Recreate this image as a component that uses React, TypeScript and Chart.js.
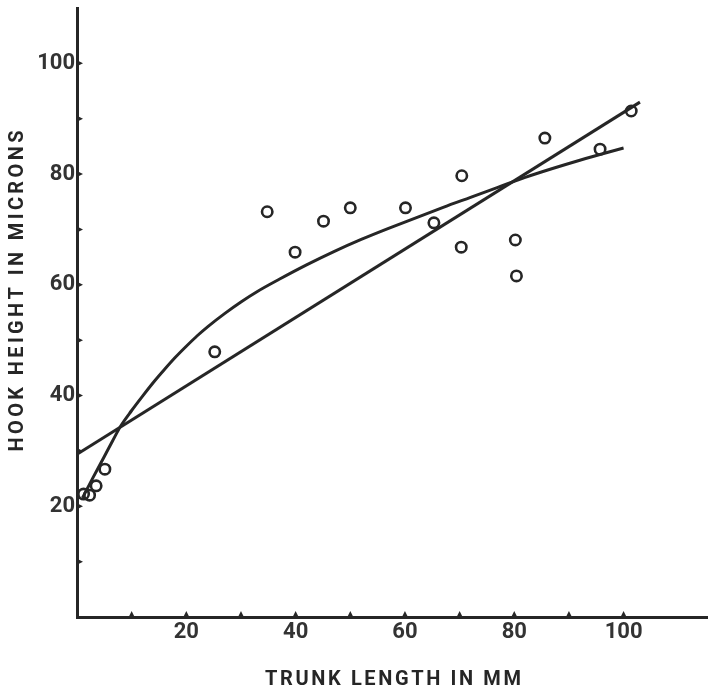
import React, { useEffect, useRef } from "react";
import { Chart, registerables } from "chart.js";

Chart.register(...registerables);

// Observed specimens (trunk length mm, hook height microns)
const pointX = [1.2, 2.3, 3.5, 5.1, 25.2, 34.8, 39.9, 45.1, 50, 60.1, 65.3, 70.4, 70.3, 80.2, 80.4, 85.6, 95.7, 101.4];
const pointY = [22.2, 22.0, 23.7, 26.7, 47.9, 73.2, 65.9, 71.5, 73.9, 73.9, 71.2, 79.7, 66.8, 68.1, 61.6, 86.5, 84.5, 91.4];

// Freehand fitted curve
const curveX = [1, 3, 5, 6.5, 8, 10, 12, 14, 16, 18, 20, 22, 24, 27, 30, 33, 37, 42, 47, 52, 57, 62, 67, 72, 77, 82, 87, 92, 97, 100];
const curveY = [21.5, 25.3, 29.0, 31.8, 34.5, 37.3, 39.9, 42.4, 44.7, 46.9, 48.9, 50.8, 52.5, 54.8, 56.9, 58.8, 61.0, 63.6, 66.0, 68.2, 70.2, 72.1, 74.0, 75.8, 77.6, 79.4, 81.0, 82.5, 83.9, 84.7];

// Straight regression line
const lineX = [0, 103];
const lineY = [29.4, 93];

const xTickLabels = [20, 40, 60, 80, 100];
const yTickLabels = [20, 40, 60, 80, 100];
const xMinorTicks = [10, 20, 30, 40, 50, 60, 70, 80, 90, 100];
const yMinorTicks = [10, 20, 30, 40, 50, 60, 70, 80, 90, 100];

const xTitle = "TRUNK LENGTH IN MM";
const yTitle = "HOOK HEIGHT IN MICRONS";

const INK = "#262626";
const FONT_FAMILY = "Roboto, 'DejaVu Sans', sans-serif";

function drawSpaced(ctx: CanvasRenderingContext2D, text: string, cx: number, cy: number, target: number) {
  const chars = text.split("");
  const widths = chars.map((c) => ctx.measureText(c).width);
  const natural = widths.reduce((a, b) => a + b, 0);
  const gap = chars.length > 1 ? (target - natural) / (chars.length - 1) : 0;
  let x = cx - target / 2;
  ctx.textAlign = "left";
  ctx.textBaseline = "middle";
  chars.forEach((c, i) => {
    ctx.fillText(c, x, cy);
    x += widths[i] + gap;
  });
}

const decorPlugin = {
  id: "decor",
  afterDraw(chart: any) {
    const { ctx, chartArea } = chart;
    const xs = chart.scales.x;
    const ys = chart.scales.y;
    ctx.save();
    ctx.fillStyle = INK;
    // small triangular tick marks on the inside of the axes
    xMinorTicks.forEach((v) => {
      const px = xs.getPixelForValue(v);
      const py = chartArea.bottom - 1;
      ctx.beginPath();
      ctx.moveTo(px - 2.5, py);
      ctx.lineTo(px, py - 5);
      ctx.lineTo(px + 2.5, py);
      ctx.closePath();
      ctx.fill();
    });
    yMinorTicks.forEach((v) => {
      const py = ys.getPixelForValue(v);
      const px = chartArea.left + 1;
      ctx.beginPath();
      ctx.moveTo(px, py - 2.5);
      ctx.lineTo(px + 5, py);
      ctx.lineTo(px, py + 2.5);
      ctx.closePath();
      ctx.fill();
    });
    // axis titles with letter spacing
    ctx.font = `bold 20px ${FONT_FAMILY}`;
    drawSpaced(ctx, xTitle, 393, 680, 256);
    ctx.translate(18, 291);
    ctx.rotate(-Math.PI / 2);
    drawSpaced(ctx, yTitle, 0, 0, 321);
    ctx.restore();
  },
};

export default function App() {
  const canvasRef = useRef<HTMLCanvasElement | null>(null);

  useEffect(() => {
    const canvas = canvasRef.current;
    if (!canvas) return;
    const toPts = (xs: number[], ys: number[]) => xs.map((x, i) => ({ x, y: ys[i] }));
    const tickFont = { family: FONT_FAMILY, size: 22, weight: "bold" as const };

    const chart = new Chart(canvas, {
      type: "scatter",
      data: {
        datasets: [
          {
            label: "Specimens",
            data: toPts(pointX, pointY),
            showLine: false,
            pointRadius: 5.2,
            pointBorderWidth: 2.6,
            pointBorderColor: INK,
            pointBackgroundColor: "rgba(0,0,0,0)",
            order: 0,
          },
          {
            label: "Curve",
            data: toPts(curveX, curveY),
            showLine: true,
            borderColor: INK,
            borderWidth: 3,
            pointRadius: 0,
            cubicInterpolationMode: "monotone",
            fill: false,
            order: 1,
          },
          {
            label: "Line",
            data: toPts(lineX, lineY),
            showLine: true,
            borderColor: INK,
            borderWidth: 3,
            pointRadius: 0,
            fill: false,
            order: 2,
          },
        ],
      },
      options: {
        responsive: false,
        animation: false,
        layout: { padding: { top: 8, left: 0, right: 0, bottom: 0 } },
        plugins: {
          legend: { display: false },
          tooltip: { enabled: false },
        },
        scales: {
          x: {
            type: "linear",
            min: 0,
            max: 115.3,
            grid: { display: false, drawTicks: false },
            border: { display: true, color: INK, width: 3 },
            ticks: {
              stepSize: 10,
              padding: 2,
              color: "#333",
              font: tickFont,
              maxRotation: 0,
              autoSkip: false,
              callback: (v: any) => (xTickLabels.includes(Number(v)) ? String(v) : ""),
            },
            afterFit: (scale: any) => {
              scale.height = 74;
              scale.paddingLeft = 0;
              scale.paddingRight = 0;
            },
          },
          y: {
            type: "linear",
            min: 0,
            max: 110,
            grid: { display: false, drawTicks: false },
            border: { display: true, color: INK, width: 3 },
            ticks: {
              stepSize: 10,
              padding: 2,
              color: "#333",
              font: tickFont,
              autoSkip: false,
              callback: (v: any) => (yTickLabels.includes(Number(v)) ? String(v) : ""),
            },
            afterFit: (scale: any) => {
              scale.width = 77;
              scale.paddingTop = 0;
              scale.paddingBottom = 0;
            },
          },
        },
      },
      plugins: [decorPlugin],
    });
    return () => chart.destroy();
  }, []);

  return (
    <div style={{ position: "absolute", left: 0, top: 0, width: 715, height: 691, background: "#fff" }}>
      <canvas ref={canvasRef} width={715} height={691} style={{ display: "block" }} />
    </div>
  );
}
